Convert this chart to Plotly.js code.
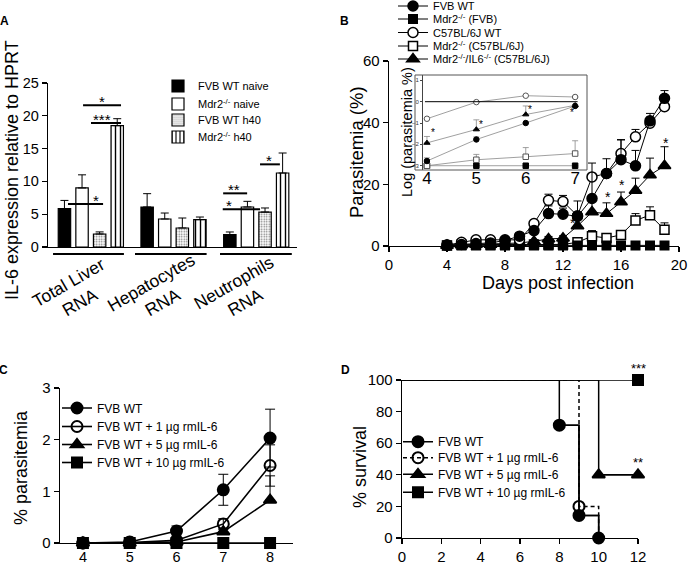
<!DOCTYPE html>
<html><head><meta charset="utf-8">
<script src="https://cdn.plot.ly/plotly-3.0.1.min.js"></script>
<style>html,body{margin:0;padding:0;background:#fff}#chart{width:689px;height:565px}</style>
</head><body><div id="chart"></div>
<script>
// ================= DATA =================
// Panel A – IL-6 expression relative to HPRT
const aCategories = ['Total Liver<br>RNA', 'Hepatocytes<br>RNA', 'Neutrophils<br>RNA'];
const aSeriesNames = ['FVB WT naive', 'Mdr2<sup>-/-</sup> naive', 'FVB WT h40', 'Mdr2<sup>-/-</sup> h40'];
const aFvbNaive = [5.84, 6.1, 1.88];
const aFvbNaiveErr = [1.26, 2.03, 0.41];
const aMdrNaive = [9.0, 4.27, 6.1];
const aMdrNaiveErr = [2.0, 0.91, 0.86];
const aFvbH40 = [1.98, 2.9, 5.33];
const aFvbH40Err = [0.32, 1.52, 0.62];
const aMdrH40 = [18.5, 4.17, 11.28];
const aMdrH40Err = [1.06, 0.4, 3.05];

// Panel B – parasitemia (%)
const bSeriesNames = ['FVB WT', 'Mdr2<sup>-/-</sup> (FVB)', 'C57BL/6J WT', 'Mdr2<sup>-/-</sup> (C57BL/6J)', 'Mdr2<sup>-/-</sup>/IL6<sup>-/-</sup> (C57BL/6J)'];
const bDays = [4, 5, 6, 7, 8, 9, 10, 11, 12, 13, 14, 15, 16, 17, 18, 19];
const bFvbWT = [0.3, 0.5, 0.8, 1.0, 1.8, 3.2, 5.0, 10.5, 10.3, 9.6, 15.4, 23.5, 28.0, 26.0, 40.6, 47.9];
const bFvbWTErr = [0, 0, 0, 0.3, 0.3, 0.5, 1.0, 2.5, 2.0, 5.0, 11.5, 4.8, 6.5, 5.0, 2.4, 2.5];
const bMdrFvb = [0.2, 0.2, 0.2, 0.2, 0.2, 0.2, 0.2, 0.2, 0.2, 0.2, 0.2, 0.2, 0.2, 0.2, 0.2, 0.2];
const bMdrFvbErr = [0, 0, 0, 0, 0, 0, 0, 0, 0, 0, 0, 0, 0, 0, 0, 0];
const bC57WT = [0.3, 1.2, 2.0, 2.0, 2.0, 2.0, 7.3, 14.8, 14.4, 9.8, 22.4, 23.5, 30.0, 35.4, 39.8, 45.2];
const bC57WTErr = [0, 0, 0, 0, 0, 0.3, 0.5, 2.0, 2.0, 1.0, 0, 0, 4.4, 2.4, 2.0, 0];
const bMdrC57 = [0.2, 0.4, 0.4, 0.5, 0.5, 0.5, 0.5, 0.5, 0.5, 1.2, 3.2, 2.6, 3.6, 8.3, 10.0, 5.3];
const bMdrC57Err = [0, 0, 0, 0, 0, 0, 0, 0, 0, 0.3, 1.8, 0.6, 0.8, 2.2, 2.7, 2.2];
const bMdrIL6 = [0.2, 0.3, 0.5, 0.5, 0.8, 1.0, 1.5, 2.3, 2.5, 6.5, 11.0, 10.5, 14.3, 18.0, 23.0, 26.0];
const bMdrIL6Err = [0, 0, 0, 0, 0, 0, 0.5, 0.8, 0.8, 3.5, 3.8, 3.5, 3.2, 4.0, 5.5, 6.2];
const bStarDays = [12.7, 15.1, 16.1, 19.1];
const bStarVals = [7.5, 15.9, 19.7, 33.3];

// Panel B inset – log(parasitemia %)
const inDays = [4, 5, 6, 7];
const inFvbWT = [-2.78, -1.77, -1.0, -0.2];
const inFvbWTErr = [0.15, 0.12, 0, 0];
const inMdrFvb = [-3.0, -3.0, -3.0, -3.0];
const inC57WT = [-0.8, -0.02, 0.28, 0.22];
const inMdrC57 = [-3.0, -2.72, -2.58, -2.43];
const inMdrC57Err = [0, 0.25, 0.43, 0.6];
const inMdrIL6 = [-1.93, -1.3, -0.6, -0.17];
const inMdrIL6Err = [0.3, 0.45, 0.4, 0];
const inStarDays = [4.12, 5.1, 6.08, 6.93];
const inStarVals = [-1.45, -1.05, -0.35, -0.5];

// Panel C – % parasitemia
const cdNames = ['FVB WT', 'FVB WT + 1 µg rmIL-6', 'FVB WT + 5 µg rmIL-6', 'FVB WT + 10 µg rmIL-6'];
const cDays = [4, 5, 6, 7, 8];
const cWT = [0, 0.02, 0.23, 1.03, 2.03];
const cWTErrUp = [0, 0, 0.1, 0.3, 0.56];
const cWTErrDn = [0, 0, 0.1, 0.3, 0.56];
const c1 = [0, 0.01, 0.05, 0.37, 1.5];
const c1ErrUp = [0, 0, 0.02, 0.1, 0.4];
const c1ErrDn = [0, 0, 0.02, 0.1, 0.4];
const c5 = [0, 0, 0.02, 0.22, 0.83];
const c5ErrUp = [0, 0, 0, 0.05, 0.47];
const c5ErrDn = [0, 0, 0, 0.05, 0];
const c10 = [0, 0, 0, 0, 0];
const c10ErrUp = [0, 0, 0, 0, 0];
const c10ErrDn = [0, 0, 0, 0, 0];

// Panel D – % survival (step curves, marks at event days)
const dWTDays = [0, 8, 9, 10];
const dWTSurv = [100, 71.4, 14.3, 0];
const dWTMarks = [1, 2, 3];
const d1Days = [0, 9, 10];
const d1Surv = [100, 20, 0];
const d1Marks = [1];
const d5Days = [0, 10, 12];
const d5Surv = [100, 40, 40];
const d5Marks = [1, 2];
const d10Days = [0, 12];
const d10Surv = [100, 100];
const d10Marks = [1];
const dStars = ['***', '**'];
const dStarDays = [12, 12];
const dStarVals = [100, 40];

// ================= DRAWING =================
const FONT = 'Liberation Sans, Arial, Helvetica, sans-serif';
const W = 689, H = 565;
const px = p => p / W;
const py = p => 1 - p / H;

const traces = [];
const layout = {
  width: W, height: H, margin: {l: 0, r: 0, t: 0, b: 0, pad: 0, autoexpand: false},
  paper_bgcolor: '#fff', plot_bgcolor: 'rgba(0,0,0,0)',
  font: {family: FONT, color: '#000', size: 14},
  barmode: 'group', bargap: 0.149, bargroupgap: 0.295,
  annotations: [], shapes: []
};
let legCount = 0;
function legendFor(textStartPx, rowPx, size) {
  legCount++;
  const id = legCount === 1 ? 'legend' : 'legend' + legCount;
  layout[id] = {x: px(textStartPx - 40), y: py(rowPx), xanchor: 'left', yanchor: 'middle',
    bgcolor: 'rgba(0,0,0,0)', borderwidth: 0, font: {size: size, color: '#000', family: FONT},
    itemwidth: 30, tracegroupgap: 0};
  return id;
}
const axBase = () => ({showline: true, linecolor: '#000', linewidth: 1.3, ticks: 'outside', ticklen: 5,
  tickwidth: 1.3, tickcolor: '#000', showgrid: false, zeroline: false, tickfont: {size: 15, color: '#000', family: FONT}, fixedrange: true});
function zeros(a) { return a.map(() => 0); }
function ann(o) { layout.annotations.push(Object.assign({showarrow: false, font: {family: FONT, size: 15, color: '#000'}}, o)); }

// ---------- Panel A ----------
layout.xaxis = Object.assign(axBase(), {domain: [px(48), px(297)], range: [-0.518, 2.493], type: 'category',
  categoryarray: aCategories, showticklabels: false, ticks: '', anchor: 'y'});
layout.yaxis = Object.assign(axBase(), {domain: [py(247), py(83)], range: [0, 25], tickvals: [0, 5, 10, 15, 20, 25], anchor: 'x', tickfont: {size: 14.5, family: FONT, color: '#000'}});
const aVals = [aFvbNaive, aMdrNaive, aFvbH40, aMdrH40];
const aErrs = [aFvbNaiveErr, aMdrNaiveErr, aFvbH40Err, aMdrH40Err];
const aMarker = [
  {color: '#000'},
  {color: '#fff'},
  {color: '#fff', pattern: {shape: '.', size: 2.5, solidity: 0.3, fgcolor: '#777', bgcolor: '#fff'}},
  {color: '#fff', pattern: {shape: '|', size: 5, solidity: 0.28, fgcolor: '#000', bgcolor: '#fff'}}
];
const aLegRows = [86, 104, 120, 137];
aVals.forEach((v, i) => {
  traces.push({type: 'bar', x: aCategories, y: v, name: aSeriesNames[i], xaxis: 'x', yaxis: 'y',
    marker: Object.assign({line: {color: '#000', width: 1.2}}, aMarker[i]),
    error_y: {type: 'data', symmetric: false, array: aErrs[i], arrayminus: zeros(v), color: '#000', thickness: 1, width: 4},
    legend: legendFor(198, aLegRows[i], 11)});
});
aCategories.forEach((c, i) => ann({xref: 'x', yref: 'paper', x: i - 0.2, y: py(292), text: c, textangle: -30,
  font: {family: FONT, size: 17.5, color: '#000'}, align: 'center', xanchor: 'center', yanchor: 'middle'}));
[[-0.457, 0.40], [0.534, 1.40], [1.562, 2.43]].forEach(s => layout.shapes.push({type: 'line', xref: 'x', yref: 'paper',
  x0: s[0], x1: s[1], y0: py(254), y1: py(254), line: {color: '#000', width: 2}}));
const aSig = [
  {x0: -0.094, x1: 0.365, y: 21.6, t: '*', tx: 0.13},
  {x0: 0.002, x1: 0.365, y: 18.9, t: '***', tx: 0.13},
  {x0: -0.276, x1: 0.148, y: 6.55, t: '*', tx: 0.06},
  {x0: 1.60, x1: 1.89, y: 8.18, t: '**', tx: 1.73},
  {x0: 1.595, x1: 2.046, y: 5.74, t: '*', tx: 1.675},
  {x0: 2.046, x1: 2.286, y: 12.6, t: '*', tx: 2.158}
];
aSig.forEach(s => {
  layout.shapes.push({type: 'line', xref: 'x', yref: 'y', x0: s.x0, x1: s.x1, y0: s.y, y1: s.y, line: {color: '#000', width: 2}});
  ann({xref: 'x', yref: 'y', x: s.tx, y: s.y, text: s.t, yanchor: 'bottom', yshift: -7, font: {family: FONT, size: 15, color: '#000'}});
});

// ---------- Panel B ----------
layout.xaxis2 = Object.assign(axBase(), {domain: [px(389), px(679)], range: [0, 20], tickvals: [0, 4, 8, 12, 16, 20], anchor: 'y2'});
layout.yaxis2 = Object.assign(axBase(), {domain: [py(246), py(61)], range: [0, 60], tickvals: [0, 20, 40, 60], anchor: 'x2'});
const bSeries = [
  {y: bFvbWT, e: bFvbWTErr, sym: 'circle', col: '#000', size: 10},
  {y: bMdrFvb, e: bMdrFvbErr, sym: 'square', col: '#000', size: 8.5},
  {y: bC57WT, e: bC57WTErr, sym: 'circle', col: '#fff', size: 10},
  {y: bMdrC57, e: bMdrC57Err, sym: 'square', col: '#fff', size: 9},
  {y: bMdrIL6, e: bMdrIL6Err, sym: 'triangle-up', col: '#000', size: 11}
];
const bLegRows = [6, 19, 32.5, 46, 59];
const bOrder = [3, 1, 4, 2, 0];
bOrder.forEach(i => {
  const s = bSeries[i];
  traces.push({type: 'scatter', mode: 'lines+markers', x: bDays, y: s.y, name: bSeriesNames[i], xaxis: 'x2', yaxis: 'y2',
    cliponaxis: false, line: {color: '#000', width: 1},
    marker: {symbol: s.sym, size: s.size, color: s.col, line: {color: '#000', width: 1.5}},
    error_y: {type: 'data', symmetric: false, array: s.e, arrayminus: zeros(s.e), color: '#000', thickness: 1, width: 4},
    legend: legendFor(433, bLegRows[i], 11)});
});
bStarDays.forEach((d, i) => ann({xref: 'x2', yref: 'y2', x: d, y: bStarVals[i], text: '*', yanchor: 'middle', font: {family: FONT, size: 14, color: '#000'}}));

// inset
layout.xaxis3 = Object.assign(axBase(), {domain: [px(423), px(587)], range: [3.92, 7.24], tickvals: [4, 5, 6, 7], anchor: 'y3',
  showline: false, ticks: '', ticklabelstandoff: -4, tickfont: {size: 17, family: FONT, color: '#000'}});
layout.yaxis3 = Object.assign(axBase(), {domain: [py(170), py(75)], range: [-3.2, 1.25], tickvals: [-3, -2, -1, 0, 1], anchor: 'x3',
  linewidth: 1, linecolor: '#444', ticklen: 2, tickwidth: 1, tickcolor: '#444', tickfont: {size: 6, family: FONT, color: '#333'}});
layout.shapes.push({type: 'rect', xref: 'paper', yref: 'paper', x0: px(415), x1: px(587), y0: py(170), y1: py(75), line: {color: '#555', width: 1}});
layout.shapes.push({type: 'line', xref: 'x3', yref: 'y3', x0: 3.96, x1: 7.05, y0: 0, y1: 0, line: {color: '#000', width: 1}});
const inSeries = [
  {y: inMdrFvb, e: zeros(inMdrFvb), sym: 'square', col: '#000'},
  {y: inMdrC57, e: inMdrC57Err, sym: 'square', col: '#fff'},
  {y: inFvbWT, e: inFvbWTErr, sym: 'circle', col: '#000'},
  {y: inC57WT, e: zeros(inC57WT), sym: 'circle', col: '#fff'},
  {y: inMdrIL6, e: inMdrIL6Err, sym: 'triangle-up', col: '#000'}
];
inSeries.forEach(s => traces.push({type: 'scatter', mode: 'lines+markers', x: inDays, y: s.y, xaxis: 'x3', yaxis: 'y3', showlegend: false,
  cliponaxis: false, line: {color: '#888', width: 0.8},
  marker: {symbol: s.sym, size: 5.5, color: s.col, line: {color: s.col === '#fff' ? '#555' : '#000', width: 1}},
  error_y: {type: 'data', symmetric: false, array: s.e, arrayminus: zeros(s.e), color: '#888', thickness: 0.8, width: 3}}));
inStarDays.forEach((d, i) => ann({xref: 'x3', yref: 'y3', x: d, y: inStarVals[i], text: '*', yanchor: 'middle', font: {family: FONT, size: 10, color: '#000'}}));

// ---------- Panel C ----------
layout.xaxis4 = Object.assign(axBase(), {domain: [px(60), px(293)], range: [3.51, 8.49], tickvals: [4, 5, 6, 7, 8], anchor: 'y4',
  ticklen: 2, ticklabelstandoff: -2, tickfont: {size: 14.5, family: FONT, color: '#000'}});
layout.yaxis4 = Object.assign(axBase(), {domain: [py(543), py(388)], range: [0, 3], tickvals: [0, 1, 2, 3], anchor: 'x4'});
const cSeries = [
  {y: cWT, up: cWTErrUp, dn: cWTErrDn, sym: 'circle'},
  {y: c1, up: c1ErrUp, dn: c1ErrDn, sym: 'circle-open'},
  {y: c5, up: c5ErrUp, dn: c5ErrDn, sym: 'triangle-up'},
  {y: c10, up: c10ErrUp, dn: c10ErrDn, sym: 'square'}
];
const cLegRows = [408, 426.5, 444.5, 462.5];
cSeries.forEach((s, i) => traces.push({type: 'scatter', mode: 'lines+markers', x: cDays, y: s.y, name: cdNames[i], xaxis: 'x4', yaxis: 'y4',
  cliponaxis: false, line: {color: '#000', width: 1.6},
  marker: {symbol: s.sym, size: s.sym === 'square' ? 10 : 11, color: '#000', line: {color: '#000', width: 2}},
  error_y: {type: 'data', symmetric: false, array: s.up, arrayminus: s.dn, color: '#000', thickness: 1, width: 5},
  legend: legendFor(97, cLegRows[i], 12)}));

// ---------- Panel D ----------
layout.xaxis5 = Object.assign(axBase(), {domain: [px(402), px(638)], range: [0, 12], tickvals: [0, 2, 4, 6, 8, 10, 12], anchor: 'y5'});
layout.yaxis5 = Object.assign(axBase(), {domain: [py(538), py(380)], range: [0, 100], tickvals: [0, 20, 40, 60, 80, 100], anchor: 'x5'});
const dSeries = [
  {x: d1Days, y: d1Surv, m: d1Marks, sym: 'circle-open', dash: '4px,3px', name: 1},
  {x: d5Days, y: d5Surv, m: d5Marks, sym: 'triangle-up', dash: 'solid', name: 2},
  {x: d10Days, y: d10Surv, m: d10Marks, sym: 'square', dash: 'solid', name: 3},
  {x: dWTDays, y: dWTSurv, m: dWTMarks, sym: 'circle', dash: 'solid', name: 0}
];
dSeries.forEach(s => traces.push({type: 'scatter', mode: 'lines', x: s.x, y: s.y, xaxis: 'x5', yaxis: 'y5', showlegend: false,
  cliponaxis: false, line: {color: '#000', width: 1.5, shape: 'hv', dash: s.dash}}));
const dLegRows = [441.7, 457.7, 474.3, 492.3];
[3, 0, 1, 2].forEach(k => {
  const s = dSeries[k];
  traces.push({type: 'scatter', mode: 'lines+markers', x: s.m.map(j => s.x[j]), y: s.m.map(j => s.y[j]), name: cdNames[s.name],
    xaxis: 'x5', yaxis: 'y5', cliponaxis: false, line: {color: '#000', width: 1.5, shape: 'hv', dash: s.dash},
    marker: {symbol: s.sym, size: s.sym === 'square' ? 10 : 11, color: '#000', line: {color: '#000', width: 2}},
    legend: legendFor(438, dLegRows[s.name], 12)});
});
dStars.forEach((t, i) => ann({xref: 'x5', yref: 'y5', x: dStarDays[i], y: dStarVals[i], text: t, yanchor: 'middle', yshift: 12, font: {family: FONT, size: 13, color: '#000'}}));

// ---------- Titles & panel letters ----------
const titleAnn = (t, x, y, size, angle) => ann({xref: 'paper', yref: 'paper', x: px(x), y: py(y), text: t, textangle: angle,
  xanchor: 'center', yanchor: 'middle', font: {family: FONT, size: size, color: '#000'}});
titleAnn('IL-6 expression relative to HPRT', 12, 170, 18, -90);
titleAnn('Parasitemia (%)', 356, 152, 18.5, -90);
titleAnn('Days post infection', 558, 283, 18, 0);
titleAnn('Log (parasitemia %)', 407, 132, 14.5, -90);
titleAnn('% parasitemia', 21, 468, 18, -90);
titleAnn('% survival', 360, 467, 18, -90);
[['A', 4, 21], ['B', 344.5, 21], ['C', 3.5, 369.5], ['D', 345, 370]].forEach(l =>
  ann({xref: 'paper', yref: 'paper', x: px(l[1]), y: py(l[2]), text: '<b>' + l[0] + '</b>', xanchor: 'center', yanchor: 'middle',
    font: {family: FONT, size: 12, color: '#000'}}));

Plotly.newPlot('chart', traces, layout, {displayModeBar: false, staticPlot: true});
</script>
</body></html>
